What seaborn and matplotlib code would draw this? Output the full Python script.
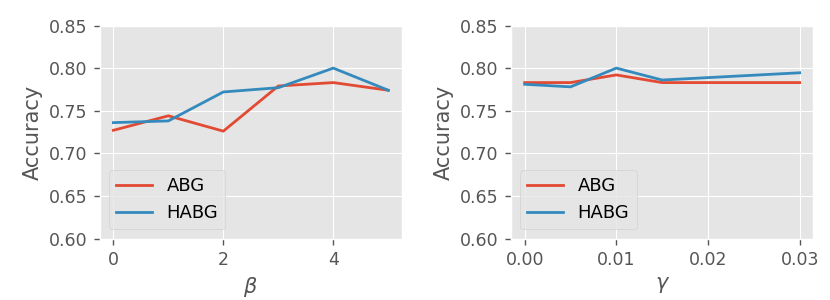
import numpy as np
import pandas as pd
import matplotlib
matplotlib.use("Agg")
import matplotlib.pyplot as plt
import seaborn as sns

# data
beta = [0, 1, 2, 3, 4, 5]
abg_beta = [0.727, 0.744, 0.726, 0.779, 0.783, 0.774]
habg_beta = [0.736, 0.738, 0.772, 0.777, 0.800, 0.774]

gamma = [0.0, 0.005, 0.01, 0.015, 0.03]
abg_gamma = [0.783, 0.783, 0.792, 0.783, 0.783]
habg_gamma = [0.781, 0.778, 0.800, 0.786, 0.7945]

plt.style.use("ggplot")
plt.rcParams['font.family'] = ['DejaVu Sans']

fig, axes = plt.subplots(1, 2, figsize=(8.3, 3.0), dpi=100)
fig.subplots_adjust(left=0.12, right=0.98, top=0.915, bottom=0.205, wspace=0.36)

def panel(ax, x, abg, habg, xlabel, xticks):
    df = pd.DataFrame({'x': list(x) * 2,
                       'acc': list(abg) + list(habg),
                       'model': ['ABG'] * len(x) + ['HABG'] * len(x)})
    sns.lineplot(data=df, x='x', y='acc', hue='model', ax=ax,
                 palette=['#E24A33', '#348ABD'], linewidth=2)
    ax.set_ylim(0.6, 0.85)
    ax.set_yticks(np.arange(0.60, 0.851, 0.05))
    ax.set_yticklabels([f"{v:.2f}" for v in np.arange(0.60, 0.851, 0.05)])
    ax.set_xticks(xticks)
    ax.tick_params(labelsize=12.5, colors='#555555', length=4, width=1,
                   direction='out', pad=5)
    ax.set_ylabel('Accuracy', fontsize=15, color='#555555')
    ax.set_xlabel(xlabel, fontsize=15, color='#555555')
    ax.legend(loc='lower left', fontsize=13, title=None)

panel(axes[0], beta, abg_beta, habg_beta, r'$\beta$', [0, 2, 4])
axes[0].set_xlim(-0.25, 5.25)
panel(axes[1], gamma, abg_gamma, habg_gamma, r'$\gamma$', [0.0, 0.01, 0.02, 0.03])
axes[1].set_xticklabels(['0.00', '0.01', '0.02', '0.03'])
axes[1].set_xlim(-0.0015, 0.0315)

fig.savefig('out.png', dpi=100)
